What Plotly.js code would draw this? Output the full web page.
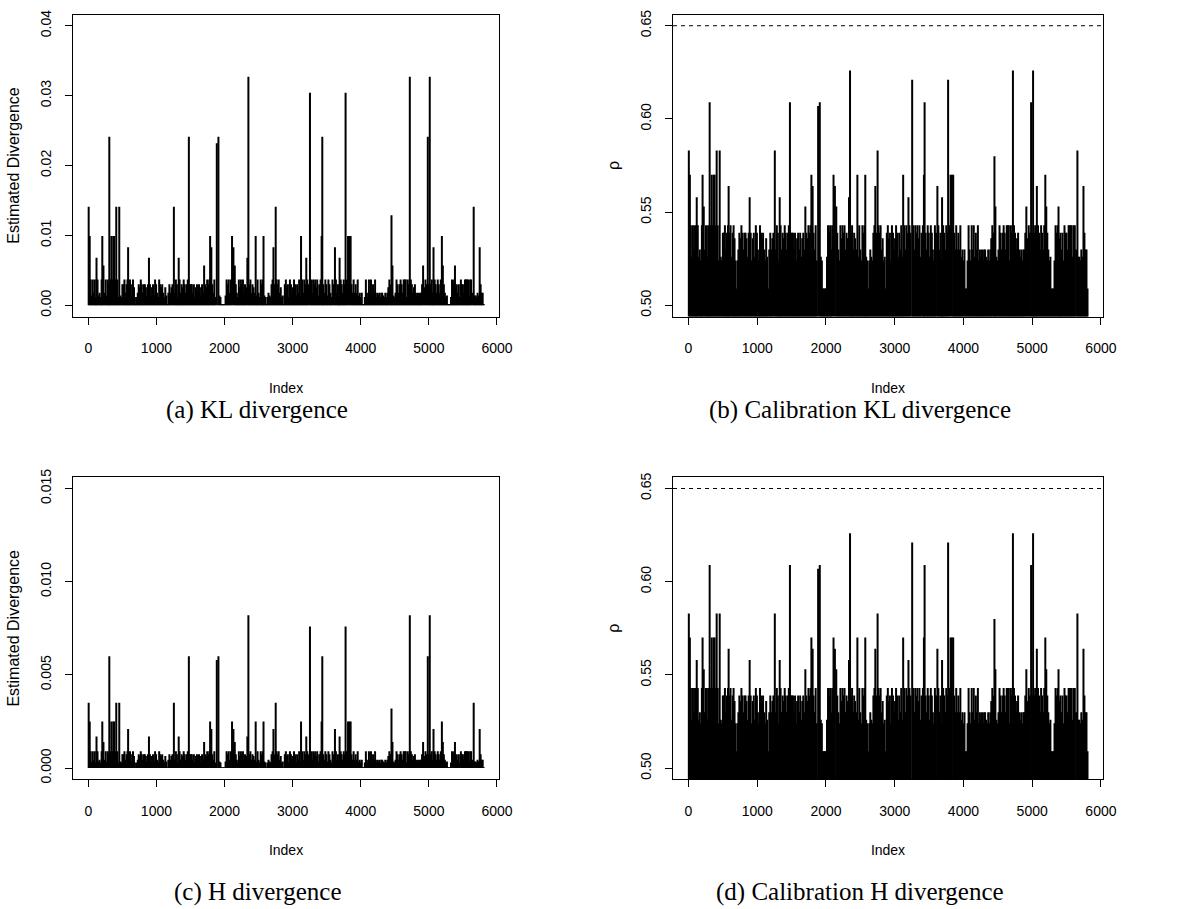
<!DOCTYPE html>
<html><head><meta charset="utf-8">
<script src="https://cdn.plot.ly/plotly-3.0.1.min.js"></script>
<style>html,body{margin:0;padding:0;background:#fff}#chart{width:1195px;height:909px}</style>
</head><body><div id="chart"></div>
<script>
// Index positions of the spikes (envelope)
const index = [
5,20,35,50,65,80,95,110,120,135,150,165,180,195,205,222,240,255,270,285,300,308,322,338,352,366,380,395,410,425,440,454,470,485,500,
515,530,545,560,575,584,598,612,628,642,656,670,684,698,712,726,740,755,770,785,800,815,830,845,860,875,890,905,920,935,950,965,980,995,
1010,1025,1040,1055,1070,1085,1100,1115,1130,1145,1160,1175,1190,1205,1220,1235,1256,1270,1285,1300,1315,1327,1340,1355,1370,1385,1400,1415,1430,1445,1460,1476,1490,
1505,1520,1535,1550,1565,1580,1595,1610,1625,1640,1655,1670,1685,1700,1715,1730,1745,1760,1775,1788,1806,1820,1835,1850,1865,1886,1910,1925,1940,1955,1970,1985,
2000,2015,2030,2045,2060,2075,2090,2110,2130,2150,2165,2180,2195,2210,2225,2240,2255,2270,2285,2300,2315,2335,2350,2365,2380,2395,2410,2425,2440,2457,2470,2485,
2500,2515,2530,2545,2560,2572,2585,2600,2615,2630,2645,2660,2675,2690,2705,2718,2735,2751,2765,2780,2795,2810,2825,2840,2855,2870,2885,2900,2915,2930,2945,2960,2975,2990,
3005,3020,3035,3050,3065,3080,3095,3110,3123,3140,3155,3170,3185,3200,3215,3230,3254,3270,3285,3300,3315,3330,3345,3360,3375,3390,3410,3425,3435,3450,3465,3480,3495,
3510,3525,3540,3555,3570,3585,3600,3621,3635,3650,3665,3680,3689,3705,3720,3735,3750,3765,3777,3795,3813,3832,3851,3865,3880,3895,3910,3925,3940,3955,3970,3985,
4000,4015,4030,4045,4060,4075,4090,4105,4120,4135,4150,4165,4180,4195,4210,4225,4240,4255,4270,4285,4300,4315,4330,4345,4360,4375,4390,4405,4420,4440,4451,4465,4480,4495,
4510,4525,4540,4555,4570,4585,4600,4615,4630,4645,4660,4675,4690,4705,4720,4735,4750,4765,4780,4795,4810,4825,4840,4855,4870,4885,4900,4915,4935,4950,4965,4984,
5000,5013,5028,5043,5058,5068,5085,5100,5115,5130,5145,5160,5175,5191,5205,5220,5235,5250,5265,5280,5295,5310,5325,5340,5355,5370,5383,5398,5410,5425,5440,5455,5470,5485,
5500,5515,5530,5545,5560,5575,5590,5605,5620,5640,5658,5672,5687,5700,5715,5730,5746,5760,5775,5790,5805
];

// (a) estimated KL divergence
const klDivergence = [
.0141,.0099,.0037,.0014,.0037,.0018,.0037,.0012,.0068,.0037,.0014,.0018,.0012,.0037,.0099,.0057,.0018,.0037,.0014,.0037,.003,.0241,.0037,.0099,.0037,.0099,.0099,.0037,.0141,.0037,.0012,.0141,.0014,.0012,.003,
.003,.0037,.0018,.003,.0037,.0083,.003,.0037,.0014,.003,.0037,.0026,.0012,.0002,.0012,.0018,.003,.0026,.0037,.003,.0018,.003,.003,.0026,.0014,.003,.0068,.003,.0012,.0026,.003,.0014,.0037,.003,
.0018,.0012,.0037,.003,.0026,.003,.0018,.0012,.0026,.0014,.0002,.0018,.003,.0018,.0026,.003,.0141,.0018,.0037,.003,.0012,.0068,.0037,.0018,.003,.0026,.0037,.003,.0018,.003,.0037,.0241,.003,
.003,.003,.0018,.003,.0012,.0026,.003,.0018,.003,.0014,.0026,.003,.0018,.0057,.003,.0026,.0037,.003,.0037,.0099,.0083,.003,.0018,.0037,.0012,.0232,.0241,.0014,.0012,.0002,.0002,.0002,
.0002,.0014,.0037,.003,.0037,.0018,.0037,.0099,.0083,.0057,.003,.0018,.0012,.0037,.0026,.0037,.003,.0037,.0018,.003,.0026,.0068,.0327,.003,.0037,.0018,.003,.0026,.0018,.0099,.0014,.0037,
.0018,.0012,.0037,.003,.0037,.0099,.0014,.0012,.0002,.0012,.0018,.0014,.0012,.003,.0037,.0083,.003,.0141,.0037,.003,.0037,.0018,.0026,.0012,.0014,.0002,.003,.0037,.0026,.003,.0012,.0037,.003,.0018,
.0026,.0037,.003,.0014,.003,.0018,.0037,.0014,.0099,.0037,.0018,.0037,.003,.0068,.0037,.003,.0304,.0037,.0018,.0037,.003,.0037,.0026,.0037,.0014,.003,.0037,.0099,.0241,.003,.0018,.0037,.003,
.0014,.0037,.003,.0018,.0012,.0037,.003,.0083,.0037,.0018,.003,.0012,.0068,.0037,.003,.0018,.0037,.003,.0304,.0037,.0099,.0099,.0099,.003,.0018,.0037,.0018,.003,.0018,.0037,.0014,.0018,
.0012,.0018,.0002,.0002,.0012,.0037,.0018,.0012,.0037,.0018,.0037,.0014,.003,.0018,.0037,.0012,.0018,.0014,.0018,.0012,.0018,.0018,.0014,.0012,.0018,.0012,.0018,.0026,.0037,.003,.0129,.0057,.0014,.0012,
.0018,.0037,.003,.0018,.003,.0037,.003,.0018,.0037,.0037,.0037,.0012,.0037,.003,.0327,.0037,.003,.0018,.0026,.003,.0018,.0014,.0018,.0012,.0018,.0018,.003,.0057,.0026,.0037,.003,.0241,
.003,.0327,.003,.0037,.0018,.0083,.0037,.003,.0018,.0037,.003,.0018,.0037,.0099,.0057,.003,.0018,.0012,.0014,.0002,.0002,.0002,.0012,.0037,.003,.0037,.0057,.0026,.003,.0018,.003,.0012,.0037,.003,
.003,.0018,.0037,.0037,.0037,.0037,.0014,.0037,.0037,.0018,.0141,.0014,.0014,.0012,.0018,.0014,.0083,.003,.0018,.0018,.0002
];

// (c) estimated H divergence
const hDivergence = [
.0035,.0025,.0009,.00035,.0009,.00045,.0009,.0003,.0017,.0009,.00035,.00045,.0003,.0009,.0025,.0014,.00045,.0009,.00035,.0009,.00075,.006,.0009,.0025,.0009,.0025,.0025,.0009,.0035,.0009,.0003,.0035,.00035,.0003,.00075,
.00075,.0009,.00045,.00075,.0009,.0021,.00075,.0009,.00035,.00075,.0009,.00065,.0003,.00005,.0003,.00045,.00075,.00065,.0009,.00075,.00045,.00075,.00075,.00065,.00035,.00075,.0017,.00075,.0003,.00065,.00075,.00035,.0009,.00075,
.00045,.0003,.0009,.00075,.00065,.00075,.00045,.0003,.00065,.00035,.00005,.00045,.00075,.00045,.00065,.00075,.0035,.00045,.0009,.00075,.0003,.0017,.0009,.00045,.00075,.00065,.0009,.00075,.00045,.00075,.0009,.006,.00075,
.00075,.00075,.00045,.00075,.0003,.00065,.00075,.00045,.00075,.00035,.00065,.00075,.00045,.0014,.00075,.00065,.0009,.00075,.0009,.0025,.0021,.00075,.00045,.0009,.0003,.0058,.006,.00035,.0003,.00005,.00005,.00005,
.00005,.00035,.0009,.00075,.0009,.00045,.0009,.0025,.0021,.0014,.00075,.00045,.0003,.0009,.00065,.0009,.00075,.0009,.00045,.00075,.00065,.0017,.0082,.00075,.0009,.00045,.00075,.00065,.00045,.0025,.00035,.0009,
.00045,.0003,.0009,.00075,.0009,.0025,.00035,.0003,.00005,.0003,.00045,.00035,.0003,.00075,.0009,.0021,.00075,.0035,.0009,.00075,.0009,.00045,.00065,.0003,.00035,.00005,.00075,.0009,.00065,.00075,.0003,.0009,.00075,.00045,
.00065,.0009,.00075,.00035,.00075,.00045,.0009,.00035,.0025,.0009,.00045,.0009,.00075,.0017,.0009,.00075,.0076,.0009,.00045,.0009,.00075,.0009,.00065,.0009,.00035,.00075,.0009,.0025,.006,.00075,.00045,.0009,.00075,
.00035,.0009,.00075,.00045,.0003,.0009,.00075,.0021,.0009,.00045,.00075,.0003,.0017,.0009,.00075,.00045,.0009,.00075,.0076,.0009,.0025,.0025,.0025,.00075,.00045,.0009,.00045,.00075,.00045,.0009,.00035,.00045,
.0003,.00045,.00005,.00005,.0003,.0009,.00045,.0003,.0009,.00045,.0009,.00035,.00075,.00045,.0009,.0003,.00045,.00035,.00045,.0003,.00045,.00045,.00035,.0003,.00045,.0003,.00045,.00065,.0009,.00075,.0032,.0014,.00035,.0003,
.00045,.0009,.00075,.00045,.00075,.0009,.00075,.00045,.0009,.0009,.0009,.0003,.0009,.00075,.0082,.0009,.00075,.00045,.00065,.00075,.00045,.00035,.00045,.0003,.00045,.00045,.00075,.0014,.00065,.0009,.00075,.006,
.00075,.0082,.00075,.0009,.00045,.0021,.0009,.00075,.00045,.0009,.00075,.00045,.0009,.0025,.0014,.00075,.00045,.0003,.00035,.00005,.00005,.00005,.0003,.0009,.00075,.0009,.0014,.00065,.00075,.00045,.00075,.0003,.0009,.00075,
.00075,.00045,.0009,.0009,.0009,.0009,.00035,.0009,.0009,.00045,.0035,.00035,.00035,.0003,.00045,.00035,.0021,.00075,.00045,.00045,.00005
];

// (b) and (d) calibration rho (the two calibration panels show the same values)
const rhoCalibration = [
.583,.57,.543,.526,.543,.53,.543,.524,.558,.543,.526,.53,.524,.543,.57,.553,.53,.543,.526,.543,.539,.609,.543,.57,.543,.57,.57,.543,.583,.543,.524,.583,.526,.524,.539,
.539,.543,.53,.539,.543,.564,.539,.543,.526,.539,.543,.536,.524,.509,.524,.53,.539,.536,.543,.539,.53,.539,.539,.536,.526,.539,.558,.539,.524,.536,.539,.526,.543,.539,
.53,.524,.543,.539,.536,.539,.53,.524,.536,.526,.509,.53,.539,.53,.536,.539,.583,.53,.543,.539,.524,.558,.543,.53,.539,.536,.543,.539,.53,.539,.543,.609,.539,
.539,.539,.53,.539,.524,.536,.539,.53,.539,.526,.536,.539,.53,.553,.539,.536,.543,.539,.543,.57,.564,.539,.53,.543,.524,.607,.609,.526,.524,.509,.509,.509,
.509,.526,.543,.539,.543,.53,.543,.57,.564,.553,.539,.53,.524,.543,.536,.543,.539,.543,.53,.539,.536,.558,.626,.539,.543,.53,.539,.536,.53,.57,.526,.543,
.53,.524,.543,.539,.543,.57,.526,.524,.509,.524,.53,.526,.524,.539,.543,.564,.539,.583,.543,.539,.543,.53,.536,.524,.526,.509,.539,.543,.536,.539,.524,.543,.539,.53,
.536,.543,.539,.526,.539,.53,.543,.526,.57,.543,.53,.543,.539,.558,.543,.539,.621,.543,.53,.543,.539,.543,.536,.543,.526,.539,.543,.57,.609,.539,.53,.543,.539,
.526,.543,.539,.53,.524,.543,.539,.564,.543,.53,.539,.524,.558,.543,.539,.53,.543,.539,.621,.543,.57,.57,.57,.539,.53,.543,.53,.539,.53,.543,.526,.53,
.524,.53,.509,.509,.524,.543,.53,.524,.543,.53,.543,.526,.539,.53,.543,.524,.53,.526,.53,.524,.53,.53,.526,.524,.53,.524,.53,.536,.543,.539,.58,.553,.526,.524,
.53,.543,.539,.53,.539,.543,.539,.53,.543,.543,.543,.524,.543,.539,.626,.543,.539,.53,.536,.539,.53,.526,.53,.524,.53,.53,.539,.553,.536,.543,.539,.609,
.539,.626,.539,.543,.53,.564,.543,.539,.53,.543,.539,.53,.543,.57,.553,.539,.53,.524,.526,.509,.509,.509,.524,.543,.539,.543,.553,.536,.539,.53,.539,.524,.543,.539,
.539,.53,.543,.543,.543,.543,.526,.543,.543,.53,.583,.526,.526,.524,.53,.526,.564,.539,.53,.53,.509
];

const xTicks = [0,1000,2000,3000,4000,5000,6000];
const klTicks = [0,0.01,0.02,0.03,0.04];
const hTicks = [0,0.005,0.010,0.015];
const rhoTicks = [0.50,0.55,0.60,0.65];
const rhoThreshold = 0.65;
const captions = ["(a) KL divergence","(b) Calibration KL divergence","(c) H divergence","(d) Calibration H divergence"];

const SANS = 'Liberation Sans, Arial, Helvetica, sans-serif';
const SERIF = 'Liberation Serif, Times New Roman, serif';

function spikes(xs, ys, xa, ya){
  const x = [], y = [];
  for (let i = 0; i < xs.length; i++){ x.push(xs[i], xs[i], null); y.push(0, ys[i], null); }
  return {type:'scatter', mode:'lines', x:x, y:y, xaxis:xa, yaxis:ya,
          line:{color:'#000', width:2}, hoverinfo:'skip', showlegend:false, connectgaps:false};
}

const data = [
  spikes(index, klDivergence, 'x', 'y'),
  spikes(index, rhoCalibration, 'x2', 'y2'),
  spikes(index, hDivergence, 'x3', 'y3'),
  spikes(index, rhoCalibration, 'x4', 'y4')
];

function xax(domain, anchor){
  return {domain:domain, anchor:anchor, range:[-225,6030], tickmode:'array', tickvals:xTicks,
    ticktext:xTicks.map(String), ticks:'outside', ticklen:7, tickwidth:1, tickcolor:'#000',
    showline:true, mirror:true, linecolor:'#000', linewidth:1, showgrid:false, zeroline:false,
    tickfont:{family:SANS, size:14, color:'#000'}, ticklabelstandoff:12,
    title:{text:'Index', font:{family:SANS, size:14, color:'#000'}, standoff:27}};
}
function yax(domain, anchor, range, ticks, dec, title){
  return {domain:domain, anchor:anchor, range:range, tickmode:'array', tickvals:ticks,
    ticktext:ticks.map(v => v.toFixed(dec)), ticks:'outside', ticklen:7, tickwidth:1, tickcolor:'#000',
    tickangle:-90, showline:true, mirror:true, linecolor:'#000', linewidth:1, showgrid:false, zeroline:false,
    tickfont:{family:SANS, size:14, color:'#000'}, ticklabelstandoff:8,
    title:{text:title, font:{family:SANS, size:16, color:'#000'}, standoff:14}};
}

const XL = [0.0611, 0.4176], XR = [0.5632, 0.9230];
const YT = [0.6518, 0.9840], YB = [0.1427, 0.4749];

const layout = {
  width:1195, height:909, autosize:false,
  margin:{l:0, r:0, t:0, b:0, pad:0},
  paper_bgcolor:'#fff', plot_bgcolor:'#fff', showlegend:false,
  xaxis: xax(XL, 'y'),
  yaxis: yax(YT, 'x', [-0.0016, 0.0416], klTicks, 2, 'Estimated Divergence'),
  xaxis2: xax(XR, 'y2'),
  yaxis2: yax(YT, 'x2', [0.4940, 0.6560], rhoTicks, 2, 'ρ'),
  xaxis3: xax(XL, 'y3'),
  yaxis3: yax(YB, 'x3', [-0.0006, 0.0156], hTicks, 3, 'Estimated Divergence'),
  xaxis4: xax(XR, 'y4'),
  yaxis4: yax(YB, 'x4', [0.4940, 0.6560], rhoTicks, 2, 'ρ'),
  shapes: [
    {type:'line', xref:'x2 domain', yref:'y2', x0:0, x1:1, y0:rhoThreshold, y1:rhoThreshold,
     line:{color:'#000', width:1, dash:'4px,4px'}},
    {type:'line', xref:'x4 domain', yref:'y4', x0:0, x1:1, y0:rhoThreshold, y1:rhoThreshold,
     line:{color:'#000', width:1, dash:'4px,4px'}}
  ],
  annotations: [
    {text:captions[0], x:257/1195, y:1-410/909},
    {text:captions[1], x:860/1195, y:1-410/909},
    {text:captions[2], x:258/1195, y:1-892/909},
    {text:captions[3], x:860/1195, y:1-892/909}
  ].map(a => Object.assign(a, {xref:'paper', yref:'paper', xanchor:'center', yanchor:'middle',
      showarrow:false, font:{family:SERIF, size:25, color:'#000'}}))
};

Plotly.newPlot('chart', data, layout, {staticPlot:true, displayModeBar:false});
</script>
</body></html>
